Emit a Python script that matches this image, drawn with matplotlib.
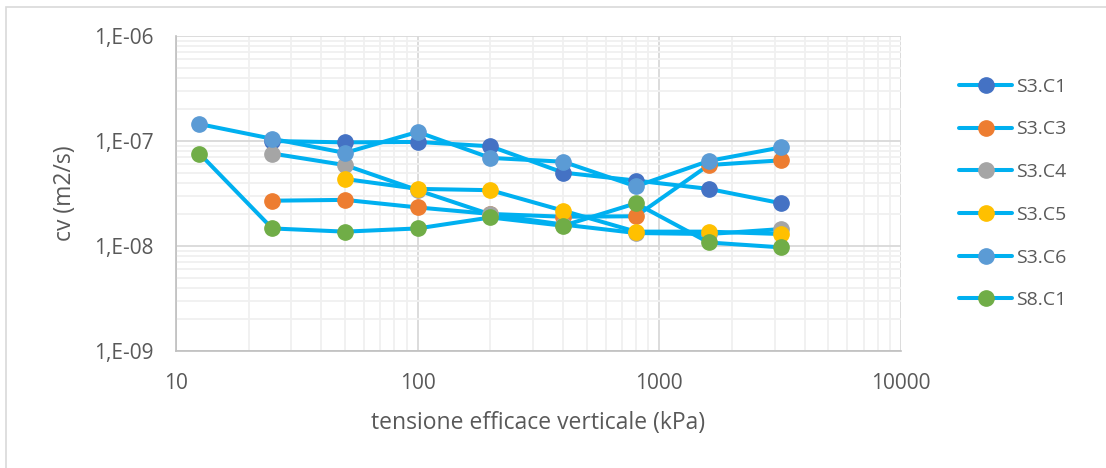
import numpy as np
import matplotlib.pyplot as plt
from matplotlib.patches import Rectangle
from matplotlib.ticker import LogLocator, FuncFormatter, NullFormatter

plt.rcParams['font.family'] = ['Open Sans', 'DejaVu Sans']

# effective vertical stress steps (kPa)
stress = [12.5, 25, 50, 100, 200, 400, 800, 1600, 3200]

# coefficient of consolidation cv (m2/s) per sample
s3_c1 = [None, 1.0e-7, 9.7e-8, 9.8e-8, 8.9e-8, 5.0e-8, 4.2e-8, 3.5e-8, 2.55e-8]
s3_c3 = [None, 2.7e-8, 2.75e-8, 2.33e-8, 2.02e-8, 1.9e-8, 1.92e-8, 5.9e-8, 6.55e-8]
s3_c4 = [None, 7.6e-8, 5.9e-8, 3.4e-8, 2.0e-8, 1.6e-8, 1.33e-8, 1.3e-8, 1.45e-8]
s3_c5 = [None, None, 4.35e-8, 3.5e-8, 3.4e-8, 2.17e-8, 1.37e-8, 1.37e-8, 1.3e-8]
s3_c6 = [1.45e-7, 1.05e-7, 7.7e-8, 1.22e-7, 6.9e-8, 6.35e-8, 3.7e-8, 6.45e-8, 8.7e-8]
s8_c1 = [7.6e-8, 1.47e-8, 1.37e-8, 1.47e-8, 1.87e-8, 1.56e-8, 2.55e-8, 1.08e-8, 9.7e-9]

names = ['S3.C1', 'S3.C3', 'S3.C4', 'S3.C5', 'S3.C6', 'S8.C1']
series = [s3_c1, s3_c3, s3_c4, s3_c5, s3_c6, s8_c1]
marker_colors = ['#4472C4', '#ED7D31', '#A5A5A5', '#FFC000', '#5B9BD5', '#70AD47']
line_color = '#00B0F0'

fig = plt.figure(figsize=(11.06, 4.68), dpi=100)
ax = fig.add_axes([176 / 1106, 1 - 351 / 468, (901 - 176) / 1106, (351 - 36) / 468])

# chart area frame
fig.patches.append(Rectangle((6 / 1106, -0.1), 1.2, 1 - 7 / 468 + 0.1,
                             transform=fig.transFigure, fill=False,
                             edgecolor='#D9D9D9', lw=1.2))

for name, vals, mc in zip(names, series, marker_colors):
    xs = [x for x, v in zip(stress, vals) if v is not None]
    ys = [v for v in vals if v is not None]
    ax.plot(xs, ys, color=line_color, lw=2.9, marker='o', ms=11,
            markerfacecolor=mc, markeredgecolor=mc, label=name,
            solid_capstyle='round', solid_joinstyle='round')

ax.set_xscale('log')
ax.set_yscale('log')
ax.set_xlim(10, 10000)
ax.set_ylim(1e-9, 1e-6)

ax.xaxis.set_major_locator(LogLocator(base=10))
ax.xaxis.set_minor_locator(LogLocator(base=10, subs=np.arange(2, 10)))
ax.yaxis.set_major_locator(LogLocator(base=10))
ax.yaxis.set_minor_locator(LogLocator(base=10, subs=np.arange(2, 10)))
ax.xaxis.set_major_formatter(FuncFormatter(lambda v, p: f'{v:g}'))
ax.yaxis.set_major_formatter(FuncFormatter(lambda v, p: f'1,E-{int(round(-np.log10(v))):02d}'))
ax.xaxis.set_minor_formatter(NullFormatter())
ax.yaxis.set_minor_formatter(NullFormatter())

ax.grid(which='major', color='#D9D9D9', lw=1.3)
ax.grid(which='minor', color='#F0F0F0', lw=1.3)
ax.set_axisbelow(True)

for side in ['top', 'right']:
    ax.spines[side].set_visible(False)
for side in ['left', 'bottom']:
    ax.spines[side].set_color('#BFBFBF')
    ax.spines[side].set_linewidth(1.2)

ax.tick_params(which='both', length=0, labelsize=15, labelcolor='#595959')
ax.tick_params(axis='x', pad=16)
ax.tick_params(axis='y', pad=16)

ax.set_xlabel('tensione efficace verticale (kPa)', fontsize=16.5, color='#595959', labelpad=12)
ax.set_ylabel('cv (m2/s)', fontsize=16.5, color='#595959', labelpad=12)

ax.legend(loc='upper left', bbox_to_anchor=(951 / 1106, 1 - 70 / 468),
          bbox_transform=fig.transFigure, frameon=False, fontsize=14,
          labelcolor='#595959', handlelength=2.75, handletextpad=0.2,
          labelspacing=1.27, borderaxespad=0)

fig.savefig('out.png', dpi=100, facecolor='white')
